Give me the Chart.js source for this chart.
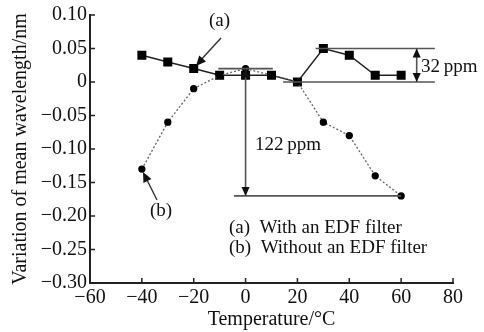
<!DOCTYPE html>
<html>
<head>
<meta charset="utf-8">
<script src="https://cdn.jsdelivr.net/npm/chart.js@4/dist/chart.umd.min.js"></script>
<style>
  html, body { margin: 0; padding: 0; background: #fff; }
  #wrap { width: 484px; height: 332px; }
</style>
</head>
<body>
<div id="wrap"><canvas id="c" width="484" height="332"></canvas></div>
<script>
const temps = [-40, -30, -20, -10, 0, 10, 20, 30, 40, 50, 60];
const withFilter = [0.04, 0.03, 0.02, 0.01, 0.01, 0.01, 0, 0.05, 0.04, 0.01, 0.01];
const withoutFilter = [-0.13, -0.06, -0.01, 0.01, 0.02, 0.01, 0, -0.06, -0.08, -0.14, -0.17];
const xTicks = [-60, -40, -20, 0, 20, 40, 60, 80];
const yTicks = [0.10, 0.05, 0, -0.05, -0.10, -0.15, -0.20, -0.25, -0.30];

const serif = '"Liberation Serif", "DejaVu Serif", serif';
const minus = s => s.replace('-', '\u2212');

function toPts(xs, ys) { return xs.map((x, i) => ({ x: x, y: ys[i] })); }

function arrowHead(ctx, x, y, dx, dy, size) {
  const len = Math.hypot(dx, dy);
  const ux = dx / len, uy = dy / len;
  ctx.beginPath();
  ctx.moveTo(x, y);
  ctx.lineTo(x - ux * size - uy * size * 0.45, y - uy * size + ux * size * 0.45);
  ctx.lineTo(x - ux * size + uy * size * 0.45, y - uy * size - ux * size * 0.45);
  ctx.closePath();
  ctx.fill();
}

const decor = {
  id: 'decor',
  afterDatasetsDraw(chart) {
    const ctx = chart.ctx;
    const xs = chart.scales.x, ys = chart.scales.y;
    const X = v => xs.getPixelForValue(v), Y = v => ys.getPixelForValue(v);
    const a = chart.chartArea;
    ctx.save();
    // inward ticks
    ctx.strokeStyle = '#222';
    ctx.lineWidth = 1.5;
    yTicks.forEach(t => {
      ctx.beginPath(); ctx.moveTo(a.left, Y(t)); ctx.lineTo(a.left + 5, Y(t)); ctx.stroke();
    });
    xTicks.forEach(t => {
      ctx.beginPath(); ctx.moveTo(X(t), a.bottom); ctx.lineTo(X(t), a.bottom - 5); ctx.stroke();
    });
    // range lines
    ctx.strokeStyle = '#555';
    ctx.fillStyle = '#111';
    ctx.lineWidth = 1.6;
    const hl = (x1, x2, y) => { ctx.beginPath(); ctx.moveTo(X(x1), Y(y)); ctx.lineTo(X(x2), Y(y)); ctx.stroke(); };
    hl(-10.5, 10.5, 0.02);
    hl(-4.5, 60, -0.17);
    hl(27, 73, 0.05);
    hl(14.5, 73, 0);
    // 122 ppm vertical
    ctx.beginPath(); ctx.moveTo(X(0), Y(0.02)); ctx.lineTo(X(0), Y(-0.17)); ctx.stroke();
    arrowHead(ctx, X(0), Y(-0.17), 0, 1, 9);
    arrowHead(ctx, X(0), Y(0.02), 0, -1, 9);
    // 32 ppm vertical
    ctx.beginPath(); ctx.moveTo(X(66), Y(0.05)); ctx.lineTo(X(66), Y(0)); ctx.stroke();
    arrowHead(ctx, X(66), Y(0.05), 0, -1, 9);
    arrowHead(ctx, X(66), Y(0), 0, 1, 9);
    // pointer arrows for (a) and (b)
    ctx.strokeStyle = '#333';
    ctx.lineWidth = 1.4;
    ctx.beginPath(); ctx.moveTo(221, 38); ctx.lineTo(199, 62); ctx.stroke();
    arrowHead(ctx, 196, 66, -22, 25, 10);
    ctx.beginPath(); ctx.moveTo(157, 200); ctx.lineTo(146, 178); ctx.stroke();
    arrowHead(ctx, 143, 172, -11, -22, 10);
    // texts
    ctx.fillStyle = '#111';
    ctx.font = '19px ' + serif;
    ctx.textBaseline = 'middle';
    ctx.textAlign = 'left';
    ctx.fillText('(a)', 209, 21);
    ctx.fillText('(b)', 150, 211);
    ctx.fillText('32\u2009ppm', 421, 67);
    ctx.fillText('122\u2009ppm', 255, 145);
    ctx.fillText('(a)  With an EDF filter', 229, 228);
    ctx.fillText('(b)  Without an EDF filter', 229, 248);
    ctx.restore();
  }
};

new Chart(document.getElementById('c'), {
  type: 'scatter',
  data: {
    datasets: [
      {
        label: '(b) Without an EDF filter',
        data: toPts(temps, withoutFilter),
        showLine: true,
        borderColor: '#666',
        borderWidth: 1.3,
        borderDash: [2, 2],
        pointStyle: 'circle',
        pointRadius: 3,
        pointBackgroundColor: '#000',
        pointBorderColor: '#000',
        tension: 0
      },
      {
        label: '(a) With an EDF filter',
        data: toPts(temps, withFilter),
        showLine: true,
        borderColor: '#222',
        borderWidth: 1.5,
        pointStyle: 'rect',
        pointRadius: 5.3,
        pointBackgroundColor: '#000',
        pointBorderColor: '#000',
        tension: 0
      }
    ]
  },
  options: {
    responsive: false,
    animation: false,
    layout: { padding: { top: 15, right: 31, left: 0, bottom: 0 } },
    plugins: { legend: { display: false }, tooltip: { enabled: false } },
    scales: {
      x: {
        type: 'linear', min: -60, max: 80,
        afterBuildTicks: s => { s.ticks = xTicks.map(v => ({ value: v })); },
        afterFit: s => { s.height = 49; },
        border: { display: true, color: '#222', width: 2 },
        grid: { display: false, drawTicks: false },
        ticks: {
          color: '#111', padding: 3,
          font: { family: serif, size: 20 },
          callback: v => minus(String(v))
        },
        title: {
          display: true, text: 'Temperature/\u00b0C', color: '#111',
          font: { family: serif, size: 20 }, padding: { top: 0, bottom: 0 }
        }
      },
      y: {
        type: 'linear', min: -0.30, max: 0.10,
        afterBuildTicks: s => { s.ticks = yTicks.map(v => ({ value: v })); },
        afterFit: s => { s.width = 90; },
        border: { display: true, color: '#222', width: 2 },
        grid: { display: false, drawTicks: false },
        ticks: {
          color: '#111', padding: 3,
          font: { family: serif, size: 20 },
          callback: v => (Math.abs(v) < 1e-9 ? '0' : minus(v.toFixed(2)))
        },
        title: {
          display: true, text: 'Variation of mean wavelength/nm', color: '#111',
          font: { family: serif, size: 20 }, padding: { top: 9, bottom: 0 }
        }
      }
    }
  },
  plugins: [decor]
});
</script>
</body>
</html>
